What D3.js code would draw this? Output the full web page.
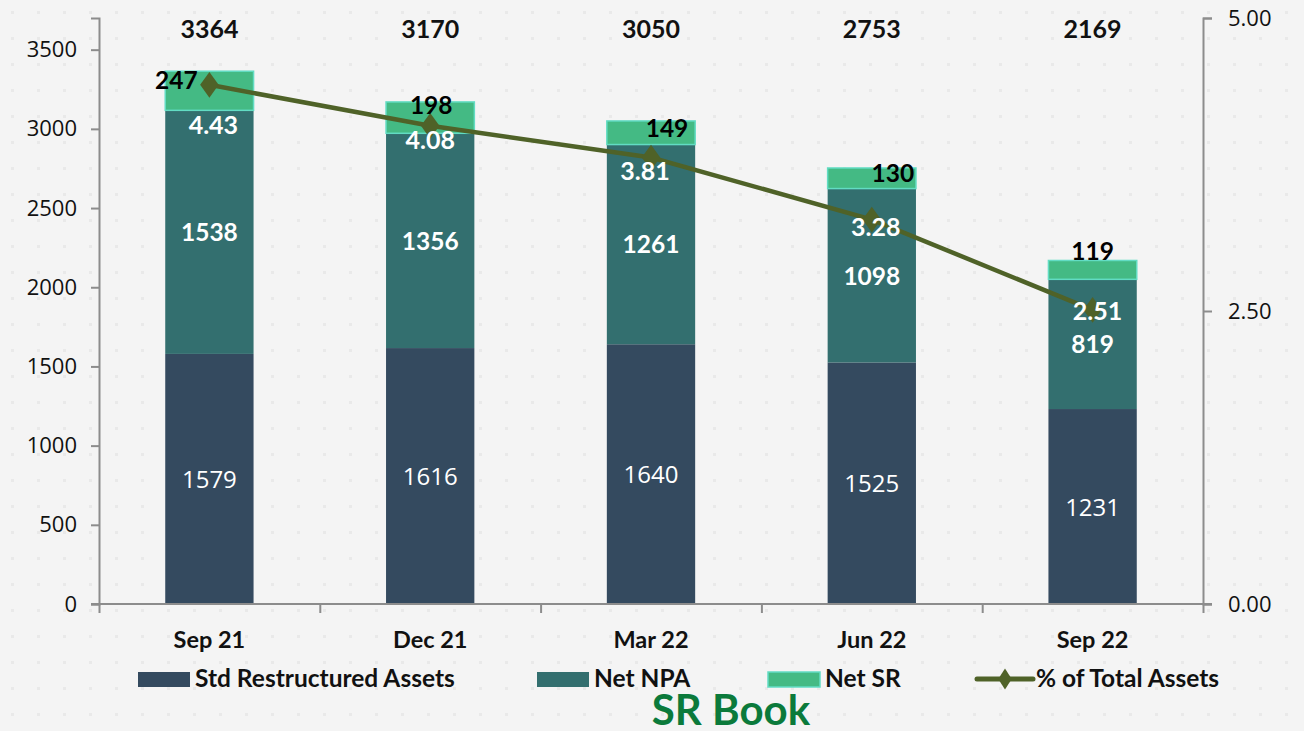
<!DOCTYPE html>
<html>
<head>
<meta charset="utf-8">
<script src="https://cdn.jsdelivr.net/npm/d3@7"></script>
<style>
  html, body { margin: 0; padding: 0; background: #f4f4f4; }
  svg { display: block; }
</style>
</head>
<body>
<svg id="chart" width="1304" height="731"></svg>
<script>
// ---- data ----
const categories = ["Sep 21", "Dec 21", "Mar 22", "Jun 22", "Sep 22"];
const stdRestructured = [1579, 1616, 1640, 1525, 1231];
const netNPA = [1538, 1356, 1261, 1098, 819];
const netSR = [247, 198, 149, 130, 119];
const totals = [3364, 3170, 3050, 2753, 2169];
const pctTotalAssets = [4.43, 4.08, 3.81, 3.28, 2.51];
const leftTicks = [0, 500, 1000, 1500, 2000, 2500, 3000, 3500];
const rightTicks = [0, 2.5, 5];
const seriesNames = ["Std Restructured Assets", "Net NPA", "Net SR", "% of Total Assets"];

// label nudges (layout only)
const srLabelNudge = [[-33, 9], [1, 3], [16, 7], [21, 5], [0, -9]];
const pctLabelNudge = [[4, 40], [0, 14], [-6, 14], [4, 7], [5, 1]];

const colors = {
  std: "#344a5f",
  npa: "#336f6f",
  sr: "#44ba84",
  srStroke: "#62dcc3",
  line: "#4f6228",
  axis: "#8c8c8c",
  title: "#0b7a3b"
};

const svg = d3.select("#chart");
const W = 1304, H = 731;

// background dots
const defs = svg.append("defs");
const pat = defs.append("pattern").attr("id", "dots").attr("width", 26).attr("height", 26)
  .attr("patternUnits", "userSpaceOnUse");
pat.append("rect").attr("x", 11).attr("y", 11).attr("width", 3).attr("height", 3).attr("fill", "#e6e6e6");
svg.append("rect").attr("width", W).attr("height", H).attr("fill", "#f4f4f4");
svg.append("rect").attr("width", W).attr("height", H).attr("fill", "url(#dots)").attr("opacity", 0.8);

const plot = { left: 99, right: 1203, top: 18, bottom: 604 };

const x = d3.scaleBand().domain(categories).range([plot.left, plot.right])
  .paddingInner(0.6).paddingOuter(0.3);
const y = d3.scaleLinear().domain([0, 3700]).range([plot.bottom, plot.top]);
const y2 = d3.scaleLinear().domain([0, 5]).range([plot.bottom, plot.top]);

const font = "Lato, 'Open Sans', sans-serif";

// stacked bars
const rows = categories.map((c, i) => ({ cat: c, std: stdRestructured[i], npa: netNPA[i], sr: netSR[i] }));
const stack = d3.stack().keys(["std", "npa", "sr"])(rows);
const fills = { std: colors.std, npa: colors.npa, sr: colors.sr };

stack.forEach(layer => {
  svg.append("g").selectAll("rect").data(layer).join("rect")
    .attr("x", d => x(d.data.cat))
    .attr("width", x.bandwidth())
    .attr("y", d => y(d[1]))
    .attr("height", d => y(d[0]) - y(d[1]))
    .attr("fill", fills[layer.key])
    .attr("stroke", layer.key === "sr" ? colors.srStroke : "none")
    .attr("stroke-width", layer.key === "sr" ? 1.5 : 0);
});

// axes
const axisColor = colors.axis;
const gL = svg.append("g").attr("transform", `translate(${plot.left},0)`)
  .call(d3.axisLeft(y).tickValues(leftTicks).tickSize(8).tickPadding(14).tickFormat(d3.format("d")));
const gR = svg.append("g").attr("transform", `translate(${plot.right},0)`)
  .call(d3.axisRight(y2).tickValues(rightTicks).tickSize(9).tickPadding(16).tickFormat(d3.format(".2f")));
const boundaries = d3.range(categories.length + 1);
const xb = d3.scaleLinear().domain([0, categories.length]).range([plot.left, plot.right]);
const gB = svg.append("g").attr("transform", `translate(0,${plot.bottom})`)
  .call(d3.axisBottom(xb).tickValues(boundaries).tickSize(9).tickFormat(""));

[gL, gR, gB].forEach(g => {
  g.select(".domain").attr("stroke", axisColor).attr("stroke-width", 2);
  g.selectAll(".tick line").attr("stroke", axisColor).attr("stroke-width", 2);
  g.selectAll(".tick text").attr("fill", "#111").style("font-family", "'Open Sans', sans-serif")
    .style("font-size", "22px");
});
gB.select(".domain").attr("d", `M${plot.left - 8},0H${plot.right + 9}`);

// category labels
svg.append("g").selectAll("text").data(categories).join("text")
  .attr("x", d => x(d) + x.bandwidth() / 2)
  .attr("y", 648)
  .attr("text-anchor", "middle")
  .style("font-family", font).style("font-weight", 700).style("font-size", "23.5px")
  .attr("fill", "#111").text(d => d);

// line series
const cx = d => x(d) + x.bandwidth() / 2;
const line = d3.line().x((d, i) => cx(categories[i])).y(d => y2(d));
svg.append("path").datum(pctTotalAssets).attr("d", line)
  .attr("fill", "none").attr("stroke", colors.line).attr("stroke-width", 4.5);
const diamond = d3.symbol().type(d3.symbolDiamond).size(190);
svg.append("g").selectAll("path").data(pctTotalAssets).join("path")
  .attr("transform", (d, i) => `translate(${cx(categories[i])},${y2(d)}) scale(1.25,1)`)
  .attr("d", diamond).attr("fill", colors.line);

// labels
const lbl = (sel) => sel.style("font-family", font).attr("text-anchor", "middle");

// totals
lbl(svg.append("g").selectAll("text").data(totals).join("text"))
  .attr("x", (d, i) => cx(categories[i])).attr("y", 38)
  .style("font-weight", 700).style("font-size", "25px").attr("fill", "#111").text(d => d);

// std
svg.append("g").selectAll("text").data(stdRestructured).join("text")
  .attr("x", (d, i) => cx(categories[i])).attr("y", d => y(d / 2) + 9)
  .attr("text-anchor", "middle").style("font-family", "'Open Sans', sans-serif")
  .style("font-size", "24px").attr("fill", "#fff").text(d => d);

// npa
lbl(svg.append("g").selectAll("text").data(netNPA).join("text"))
  .attr("x", (d, i) => cx(categories[i])).attr("y", (d, i) => y(stdRestructured[i] + d / 2) + 9)
  .style("font-weight", 700).style("font-size", "24.5px").attr("fill", "#fff").text(d => d);

// percentage
lbl(svg.append("g").selectAll("text").data(pctTotalAssets).join("text"))
  .attr("x", (d, i) => cx(categories[i]) + pctLabelNudge[i][0]).attr("y", (d, i) => y2(d) + pctLabelNudge[i][1] + 9)
  .style("font-weight", 700).style("font-size", "25px").attr("fill", "#fff").text(d => d.toFixed(2));

// net SR
lbl(svg.append("g").selectAll("text").data(netSR).join("text"))
  .attr("x", (d, i) => cx(categories[i]) + srLabelNudge[i][0]).attr("y", (d, i) => y(totals[i]) + srLabelNudge[i][1] + 9)
  .style("font-weight", 700).style("font-size", "24.5px").attr("fill", "#000").text(d => d);

// legend
const leg = svg.append("g").style("font-family", font).style("font-weight", 700).style("font-size", "24.5px");
const legItems = [
  { name: seriesNames[0], x: 138, type: "rect", fill: colors.std },
  { name: seriesNames[1], x: 537, type: "rect", fill: colors.npa },
  { name: seriesNames[2], x: 768, type: "rect", fill: colors.sr, stroke: colors.srStroke },
  { name: seriesNames[3], x: 977, type: "line" }
];
legItems.forEach(it => {
  if (it.type === "rect") {
    leg.append("rect").attr("x", it.x).attr("y", 672).attr("width", 52).attr("height", 15)
      .attr("fill", it.fill).attr("stroke", it.stroke || "none").attr("stroke-width", 1.5);
    leg.append("text").attr("x", it.x + 57).attr("y", 687).attr("fill", "#111").text(it.name);
  } else {
    leg.append("line").attr("x1", it.x).attr("x2", it.x + 56).attr("y1", 679).attr("y2", 679)
      .attr("stroke", colors.line).attr("stroke-width", 5).attr("stroke-linecap", "round");
    leg.append("path").attr("transform", `translate(${it.x + 28},679) scale(1.1,1)`)
      .attr("d", d3.symbol().type(d3.symbolDiamond).size(130)).attr("fill", colors.line);
    leg.append("text").attr("x", it.x + 59).attr("y", 687).attr("fill", "#111").text(it.name);
  }
});

// title
svg.append("text").attr("x", 731).attr("y", 725).attr("text-anchor", "middle")
  .style("font-family", font).style("font-weight", 700).style("font-size", "42px")
  .attr("fill", colors.title).text("SR Book");
</script>
</body>
</html>
